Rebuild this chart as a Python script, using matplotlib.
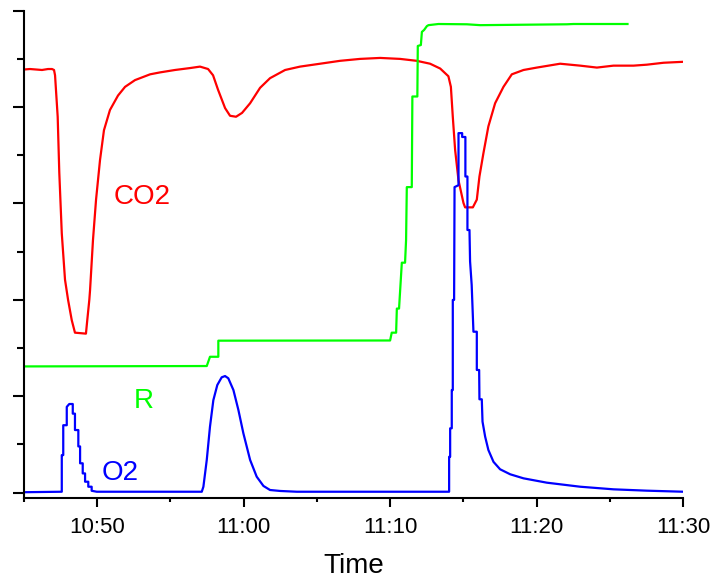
import matplotlib
matplotlib.use("Agg")
import matplotlib.pyplot as plt
from matplotlib.ticker import MultipleLocator, FuncFormatter, NullFormatter

# time in minutes after 10:45
START_H, START_M = 10, 45

co2_t = [0, 0.41, 0.82, 1.23, 1.64, 1.91, 2.05, 2.12, 2.30, 2.41, 2.58, 2.80, 3.01, 3.26, 3.48,
         4.23, 4.32, 4.46, 4.51, 4.71, 4.92, 5.19, 5.46, 5.87, 6.42, 6.90, 7.58, 8.61, 9.29,
         10.31, 11.34, 12.02, 12.57, 12.91, 13.25, 13.73, 14.07, 14.48, 14.89, 15.44, 16.12,
         16.80, 17.83, 18.85, 20.22, 21.58, 22.95, 24.32, 25.68, 26.82, 27.73, 28.42, 28.98,
         29.15, 29.28, 29.44, 29.67, 30.01, 30.12, 30.65, 30.92, 31.10, 31.37, 31.71, 32.17,
         32.74, 33.31, 34.11, 35.02, 36.61, 37.98, 39.12, 40.25, 41.62, 42.53, 43.67, 45.03]
co2_v = [4.39, 4.395, 4.39, 4.385, 4.395, 4.395, 4.385, 4.33, 3.90, 3.32, 2.69, 2.21, 2.00, 1.79, 1.66,
         1.65, 1.79, 2.00, 2.10, 2.62, 3.04, 3.45, 3.76, 3.97, 4.12, 4.21, 4.28, 4.34, 4.36,
         4.385, 4.405, 4.42, 4.395, 4.33, 4.18, 3.99, 3.91, 3.90, 3.94, 4.04, 4.20,
         4.30, 4.385, 4.42, 4.45, 4.48, 4.50, 4.51, 4.50, 4.48, 4.45, 4.40, 4.32,
         4.21, 3.90, 3.555, 3.24, 3.005, 2.96, 2.96, 3.04, 3.28, 3.52, 3.80, 4.04,
         4.21, 4.34, 4.385, 4.41, 4.45, 4.43, 4.41, 4.43, 4.43, 4.44, 4.46, 4.47]

r_t = [0, 12.48, 12.70, 13.27, 13.27, 25.0, 25.11, 25.41, 25.46, 25.61, 25.80, 26.02, 26.09,
       26.14, 26.48, 26.52, 26.86, 26.89, 27.10, 27.17, 27.32, 27.51, 27.62, 28.30, 30.24,
       31.15, 37.07, 37.52, 41.21]
r_v = [1.31, 1.314, 1.41, 1.41, 1.577, 1.579, 1.66, 1.66, 1.91, 1.91, 2.386, 2.386, 2.62,
       3.17, 3.17, 4.11, 4.11, 4.634, 4.644, 4.78, 4.80, 4.84, 4.85, 4.862, 4.859,
       4.85, 4.859, 4.862, 4.862]

o2_t = [0, 2.58, 2.58, 2.68, 2.68, 2.92, 2.92, 3.09, 3.33, 3.33, 3.48, 3.48, 3.71, 3.71, 3.83,
        3.83, 4.01, 4.01, 4.17, 4.17, 4.39, 4.39, 4.62, 4.62, 4.97,
        12.14, 12.25, 12.48, 12.70, 12.93, 13.20, 13.50, 13.73, 13.95, 14.30, 14.64, 14.98,
        15.44, 15.89, 16.35, 16.80, 17.49, 18.63,
        29.03, 29.03, 29.10, 29.10, 29.21, 29.21, 29.28, 29.28, 29.37, 29.40, 29.67, 29.67,
        29.92, 29.92, 30.14, 30.14, 30.28, 30.28, 30.42, 30.46, 30.57, 30.69, 30.92, 30.92,
        31.08, 31.10, 31.26, 31.31, 31.49, 31.71, 32.06, 32.51, 33.20, 34.11, 35.70, 37.98,
        40.25, 42.53, 45.03]
o2_v = [0.005, 0.01, 0.39, 0.39, 0.70, 0.70, 0.89, 0.92, 0.92, 0.82, 0.82, 0.65, 0.65, 0.48, 0.48,
        0.305, 0.305, 0.20, 0.20, 0.114, 0.114, 0.062, 0.062, 0.02, 0.01,
        0.01, 0.062, 0.34, 0.685, 0.96, 1.117, 1.197, 1.21, 1.187, 1.065, 0.858, 0.616,
        0.34, 0.166, 0.07, 0.028, 0.018, 0.01,
        0.01, 0.373, 0.373, 0.668, 0.668, 1.065, 1.065, 2.0, 2.0, 3.17, 3.19, 3.73,
        3.73, 3.69, 3.69, 3.28, 3.28, 2.725, 2.725, 2.40, 2.155, 1.67, 1.67, 1.273,
        1.273, 0.969, 0.969, 0.737, 0.581, 0.443, 0.32, 0.243, 0.191, 0.149, 0.104, 0.062,
        0.035, 0.021, 0.01]

labels = ["CO2", "R", "O2"]
label_pos = [(8.05, 3.07), (8.2, 0.95), (6.55, 0.20)]
colors = ["#ff0000", "#00ff00", "#0000ff"]

plt.rcParams['font.family'] = ['Liberation Sans', 'DejaVu Sans']

fig = plt.figure(figsize=(7.13, 5.81), dpi=100)
ax = fig.add_axes([24/713, 1 - 498/581, (683 - 24)/713, (498 - 10.7)/581])

ax.plot(co2_t, co2_v, color=colors[0], lw=1.6)
ax.plot(r_t, r_v, color=colors[1], lw=1.6)
ax.plot(o2_t, o2_v, color=colors[2], lw=1.6)

for lab, (lx, ly), c in zip(labels, label_pos, colors):
    ax.text(lx, ly, lab, color=c, fontsize=20, ha='center', va='center')

ax.set_xlim(0, 45)
ax.set_ylim(-0.055, 5)

def fmt(m, pos):
    tot = START_H * 60 + START_M + int(round(m))
    return f"{tot // 60}:{tot % 60:02d}"

ax.set_xticks([5, 15, 25, 35, 45])
ax.xaxis.set_major_formatter(FuncFormatter(fmt))
ax.set_xticks([0, 10, 20, 30, 40], minor=True)

ax.yaxis.set_major_locator(MultipleLocator(1))
ax.yaxis.set_minor_locator(MultipleLocator(0.5))
ax.yaxis.set_major_formatter(NullFormatter())

for s in ['top', 'right']:
    ax.spines[s].set_visible(False)
for s in ['left', 'bottom']:
    ax.spines[s].set_linewidth(1.5)

ax.tick_params(axis='x', which='major', length=6.3, width=1.5, labelsize=16, pad=7.5)
ax.tick_params(axis='x', which='minor', length=2.9, width=1.5)
ax.tick_params(axis='y', which='major', length=8, width=1.5)
ax.tick_params(axis='y', which='minor', length=4.8, width=1.5)

ax.set_xlabel("Time", fontsize=20, labelpad=11)

fig.savefig("out.png", dpi=100)
